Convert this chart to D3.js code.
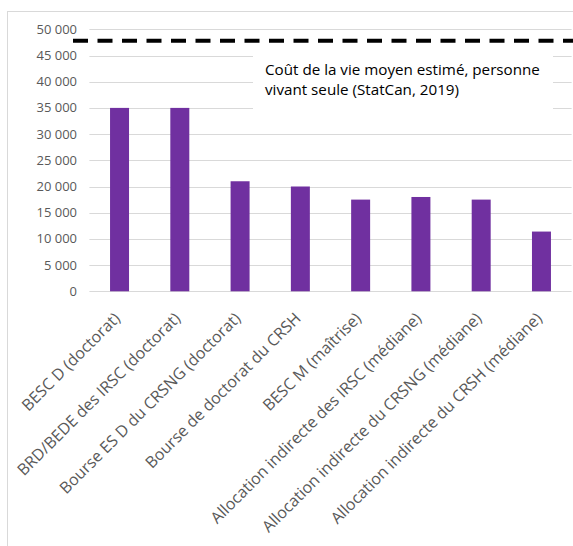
<!DOCTYPE html>
<html>
<head>
<meta charset="utf-8">
<script src="https://cdn.jsdelivr.net/npm/d3@7"></script>
<style>
  body { margin: 0; background: #fff; }
  svg { display: block; font-family: "Open Sans", "Liberation Sans", sans-serif; }
</style>
</head>
<body>
<svg id="chart" width="573" height="546"></svg>
<script>
// data
const categories = [
  "BESC D (doctorat)",
  "BRD/BEDE des IRSC (doctorat)",
  "Bourse ES D du CRSNG (doctorat)",
  "Bourse de doctorat du CRSH",
  "BESC M (maîtrise)",
  "Allocation indirecte des IRSC (médiane)",
  "Allocation indirecte du CRSNG (médiane)",
  "Allocation indirecte du CRSH (médiane)"
];
const values = [35000, 35000, 21000, 20000, 17500, 18000, 17500, 11400];
const yTicks = [0, 5000, 10000, 15000, 20000, 25000, 30000, 35000, 40000, 45000, 50000];
const costOfLiving = 47800;
const annotationLines = ["Coût de la vie moyen estimé, personne", "vivant seule (StatCan, 2019)"];

const svg = d3.select("#chart");
const plotLeft = 89.4, plotRight = 571.6, plotTop = 29.3, plotBottom = 291.3;

// chart area border (right and bottom sides fall outside the picture)
svg.append("rect")
  .attr("x", 7.5).attr("y", 11.5)
  .attr("width", 600).attr("height", 560)
  .attr("fill", "none")
  .attr("stroke", "#d9d9d9");

const x = d3.scaleBand()
  .domain(categories)
  .range([plotLeft, plotRight])
  .paddingInner(0.685)
  .paddingOuter(0.3425);

const y = d3.scaleLinear()
  .domain([0, 50000])
  .range([plotBottom, plotTop]);

const fmt = d => d3.format(",")(d).replace(/,/g, " ");

// gridlines
svg.append("g")
  .selectAll("line")
  .data(yTicks)
  .join("line")
  .attr("x1", plotLeft).attr("x2", plotRight)
  .attr("y1", d => Math.round(y(d)) + 0.5)
  .attr("y2", d => Math.round(y(d)) + 0.5)
  .attr("stroke", "#d9d9d9")
  .attr("stroke-width", 1);

// y tick labels
svg.append("g")
  .selectAll("text")
  .data(yTicks)
  .join("text")
  .attr("x", 77)
  .attr("y", d => y(d))
  .attr("dy", "0.35em")
  .attr("text-anchor", "end")
  .attr("fill", "#595959")
  .style("font-size", "13px")
  .text(fmt);

// bars
svg.append("g")
  .selectAll("rect")
  .data(values)
  .join("rect")
  .attr("x", (d, i) => x(categories[i]))
  .attr("y", d => y(d))
  .attr("width", x.bandwidth())
  .attr("height", d => y(0) - y(d))
  .attr("fill", "#7030a0");

// x labels
svg.append("g")
  .selectAll("text")
  .data(categories)
  .join("text")
  .attr("transform", d => `translate(${x(d) + x.bandwidth() / 2 + 1.5},${plotBottom + 28}) rotate(-45)`)
  .attr("text-anchor", "end")
  .attr("fill", "#595959")
  .style("font-size", "16px")
  .text(d => d);

// white box behind annotation
svg.append("rect")
  .attr("x", 253).attr("y", 47)
  .attr("width", 300).attr("height", 75)
  .attr("fill", "#fff");

// dashed cost of living line
svg.append("line")
  .attr("x1", 73).attr("x2", 573)
  .attr("y1", y(costOfLiving)).attr("y2", y(costOfLiving))
  .attr("stroke", "#000")
  .attr("stroke-width", 4)
  .attr("stroke-dasharray", "15,9.5");

svg.append("g")
  .selectAll("text")
  .data(annotationLines)
  .join("text")
  .attr("x", 265)
  .attr("y", (d, i) => 75 + i * 19.5)
  .attr("fill", "#000")
  .style("font-size", "15.2px")
  .text(d => d);
</script>
</body>
</html>
